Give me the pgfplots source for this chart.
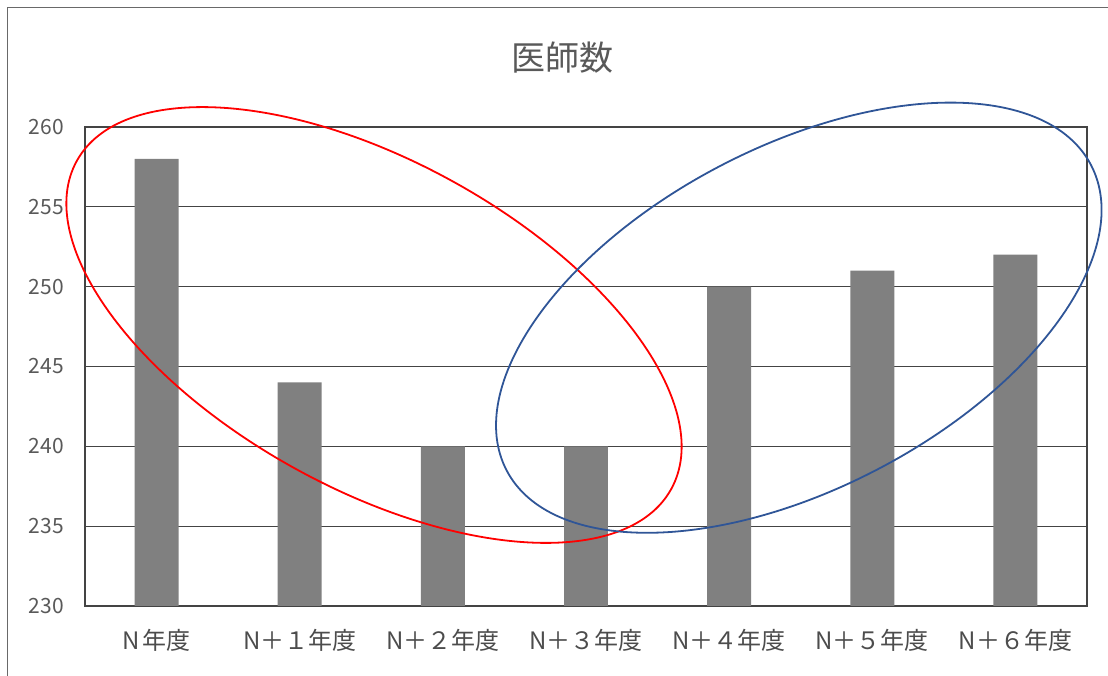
\documentclass[border=0pt]{standalone}
\usepackage{fontspec}
\setmainfont{Noto Sans CJK JP}
\usepackage{pgfplots}
\pgfplotsset{compat=1.18}
\definecolor{lblgray}{HTML}{595959}
\definecolor{gridc}{HTML}{444444}
\definecolor{barc}{HTML}{808080}
\definecolor{ebl}{HTML}{2F5597}
\begin{document}
\begin{tikzpicture}
\path[use as bounding box] (0,0) rectangle (1108bp,676bp);
\draw[line width=1.2bp, color=gridc!80] (7.5bp,-5bp) -- (7.5bp,668.5bp) -- (1115bp,668.5bp);
\node[text=lblgray, font=\fontsize{34bp}{38bp}\selectfont] at (562bp,618bp) {医師数};
\begin{axis}[
  at={(85bp,70bp)}, anchor=south west,
  scale only axis, width=1002bp, height=479bp,
  xmin=-0.5, xmax=6.5, ymin=230, ymax=260,
  ytick={230,235,...,260},
  xtick={0,...,6},
  xticklabels={N\kern3bp 年度, N＋１年度, N＋２年度, N＋３年度, N＋４年度, N＋５年度, N＋６年度},
  major tick length=0pt,
  ymajorgrids,
  grid style={gridc, line width=1.3bp},
  axis line style={gridc, line width=1.3bp},
  /pgf/number format/assume math mode=true,
  yticklabel style={text=lblgray, font=\fontsize{21bp}{24bp}\selectfont, inner sep=0pt, anchor=east, xshift=-21bp},
  xticklabel style={text=lblgray!85!black, font=\fontsize{24bp}{27bp}\selectfont, inner sep=0pt, anchor=center, yshift=-34bp},
]
\addplot[ybar, bar width=0.307, fill=barc, draw=none] coordinates {
  (0,258) (1,244) (2,240) (3,240) (4,250) (5,251) (6,252)
};
\end{axis}
\draw[red, line width=1.8bp, rotate around={-28.9:(374bp,351bp)}] (374bp,351bp) ellipse (339.5bp and 163.8bp);
\draw[ebl, line width=1.8bp, rotate around={27.6:(798.8bp,358.3bp)}] (798.8bp,358.3bp) ellipse (329.7bp and 170.9bp);
\end{tikzpicture}
\end{document}
